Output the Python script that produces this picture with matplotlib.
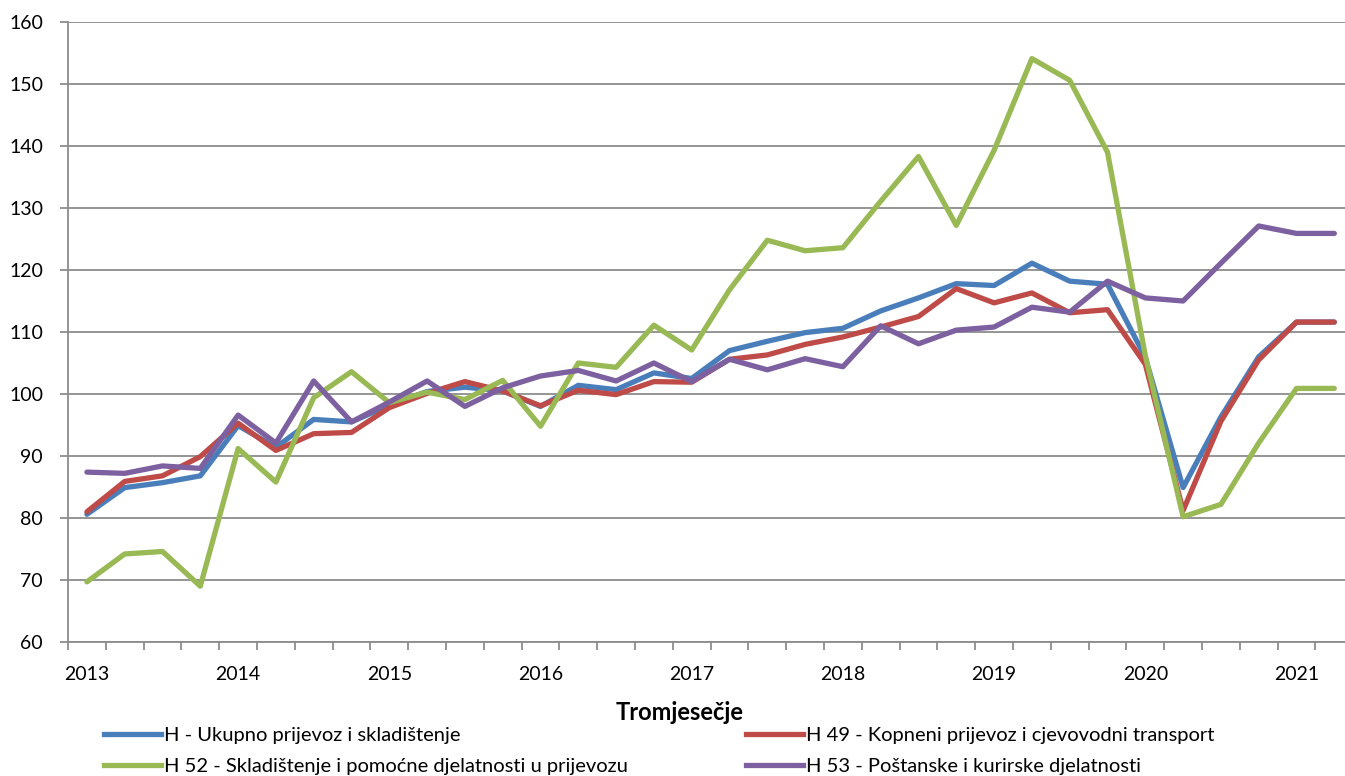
import numpy as np
import matplotlib.pyplot as plt
from matplotlib.lines import Line2D

plt.rcParams['font.family'] = ['Lato', 'DejaVu Sans']

# quarters 2013Q1 .. 2021Q2
years = [str(y) for y in range(2013, 2022)]

h_total = [80.6, 84.9, 85.7, 86.8, 94.9, 91.4, 95.9, 95.5, 98.2, 100.4, 101.1, 100.5,
           98.0, 101.4, 100.7, 103.4, 102.5, 107.0, 108.5, 109.9, 110.6, 113.4, 115.5, 117.8,
           117.5, 121.1, 118.2, 117.7, 105.9, 84.9, 96.3, 106.0, 111.6, 111.6]
h49 = [81.0, 85.9, 86.8, 89.9, 95.3, 90.9, 93.6, 93.8, 97.8, 100.1, 102.0, 100.5,
       98.1, 100.6, 99.9, 102.0, 101.9, 105.6, 106.3, 108.0, 109.2, 110.8, 112.5, 117.0,
       114.7, 116.3, 113.1, 113.6, 104.8, 81.2, 95.6, 105.5, 111.6, 111.6]
h52 = [69.7, 74.2, 74.6, 69.0, 91.2, 85.8, 99.4, 103.6, 98.6, 100.3, 99.1, 102.2,
       94.8, 105.0, 104.3, 111.1, 107.1, 116.8, 124.8, 123.1, 123.6, 131.1, 138.3, 127.2,
       139.3, 154.1, 150.6, 139.0, 106.2, 80.2, 82.2, 92.1, 100.9, 100.9]
h53 = [87.4, 87.2, 88.4, 88.0, 96.6, 92.1, 102.1, 95.5, 98.7, 102.1, 98.0, 101.0,
       102.9, 103.8, 102.1, 105.0, 102.0, 105.6, 103.9, 105.7, 104.4, 111.0, 108.1, 110.3,
       110.8, 114.0, 113.2, 118.2, 115.5, 115.0, 121.1, 127.1, 125.9, 125.9]

labels = ['H - Ukupno prijevoz i skladištenje',
          'H 49 - Kopneni prijevoz i cjevovodni transport',
          'H 52 - Skladištenje i pomoćne djelatnosti u prijevozu',
          'H 53 - Poštanske i kurirske djelatnosti']
colors = ['#4A7EBB', '#BE4B48', '#98B954', '#7D60A0']

W, H = 1345, 776
fig = plt.figure(figsize=(W / 100, H / 100), dpi=100)
ax = fig.add_axes([68 / W, 1 - 642 / H, (34 * 37.8) / W, (642 - 22) / H])

x = np.arange(len(h_total))
for series, c in zip([h_total, h49, h52, h53], colors):
    ax.plot(x, series, color=c, lw=3.8, solid_joinstyle='round', solid_capstyle='round', zorder=3)

ax.set_xlim(-0.5, len(x) - 0.5)
ax.set_ylim(60, 160)
ax.set_yticks(range(60, 161, 10))
ax.grid(axis='y', color='#8C8C8C', lw=1.3, zorder=0)

ax.set_xticks(np.arange(0, len(x), 4))
ax.set_xticklabels(years)
ax.set_xticks(np.arange(-0.5, len(x), 1), minor=True)
ax.tick_params(axis='x', which='major', length=0, pad=17, labelsize=14)
ax.tick_params(axis='x', which='minor', length=6, width=1.3, color='#8C8C8C')
ax.tick_params(axis='y', length=6, width=1.3, color='#8C8C8C', pad=12, labelsize=14)

for s in ['top', 'right']:
    ax.spines[s].set_visible(False)
for s in ['left', 'bottom']:
    ax.spines[s].set_color('#8C8C8C')
    ax.spines[s].set_linewidth(1.3)

fig.text(680 / W, 1 - 712 / H, 'Tromjesečje', ha='center', va='center',
         fontsize=17, fontweight='bold')

handles = [Line2D([], [], color=c, lw=3.8) for c in colors]
kw = dict(frameon=False, fontsize=14.5, handlelength=2.85, handletextpad=0.15,
          labelspacing=0.68, borderpad=0, borderaxespad=0, loc='upper left')
leg1 = fig.legend([handles[0], handles[2]], [labels[0], labels[2]],
                  bbox_to_anchor=(104 / W, 1 - 727 / H), **kw)
leg2 = fig.legend([handles[1], handles[3]], [labels[1], labels[3]],
                  bbox_to_anchor=(746 / W, 1 - 727 / H), **kw)

fig.savefig('out.png', dpi=100)
